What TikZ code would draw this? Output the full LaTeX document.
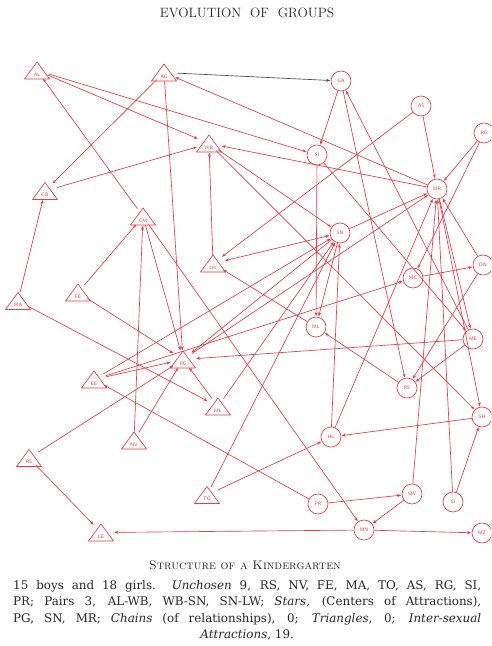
\documentclass[tikz,border=0pt]{standalone}
\usepackage{fontspec}
\newfontfamily\bodyfont{DejaVu Serif}
\usetikzlibrary{arrows.meta,shapes.geometric}
\definecolor{sred}{RGB}{234,58,66}
\definecolor{ink}{RGB}{40,40,40}
\newcommand{\boynode}[4]{%
  \node[boyhit] (#1) at (#2,#3) {};
  \draw[tri] ({#2-12.5},{#3+8.5}) -- ({#2+12.5},{#3+8.5}) -- (#2,{#3-8.5}) -- cycle;
  \node[blbl] (#1-l) at (#2,{#3+4.2}) {#4};}
\begin{document}
\begin{tikzpicture}[x=1pt,y=-1pt,
  link/.style={draw=sred,line width=0.65pt,-{Stealth[length=4pt,width=3pt]},shorten >=0.5pt},
  girl/.style={circle,draw=sred,line width=0.65pt,minimum size=20pt,inner sep=0pt,font=\fontsize{5}{5}\selectfont\sffamily,text=sred},
  boyhit/.style={ellipse,minimum width=25pt,minimum height=17pt,inner sep=0pt},
  tri/.style={draw=sred,line width=0.65pt,line join=round},
  blbl/.style={font=\fontsize{5}{5}\selectfont\sffamily,text=sred,inner sep=0pt}]
\useasboundingbox (0,0) rectangle (491,646);
\clip (0,0) rectangle (491,646);
\fill[white] (0,0) rectangle (491,646);

% title
\node[font=\fontsize{13.5}{15}\selectfont, text=ink] (title) at (247,13) {EVOLUTION\ \ OF\ \ GROUPS};

% boys (triangles)
\boynode{AL}{37}{70.5}{AL}
\boynode{AG}{164}{72.5}{AG}
\boynode{WB}{209}{143.5}{WB}
\boynode{CO}{45}{191}{CO}
\boynode{CM}{143}{216.5}{CM}
\boynode{LW}{213}{263.5}{LW}
\boynode{FE}{78}{292.5}{FE}
\boynode{MA}{18}{301}{MA}
\boynode{PG}{183}{359.5}{PG}
\boynode{EE}{94}{379.5}{EE}
\boynode{MLb}{218}{406.5}{ML}
\boynode{NV}{134}{440.5}{NV}
\boynode{RSb}{29}{458}{RS}
\boynode{TO}{207}{495}{TO}
\boynode{LE}{101}{532.5}{LE}

% girls (circles)
\node[girl] (GA) at (341,81) {GA};
\node[girl] (AS) at (421,106) {AS};
\node[girl] (RG) at (484,133) {RG};
\node[girl] (SI) at (317,155) {SI};
\node[girl] (MR) at (437,189) {MR};
\node[girl] (SN) at (340,233) {SN};
\node[girl] (DN) at (483,265) {DN};
\node[girl] (MC) at (413,278) {MC};
\node[girl] (MLg) at (316,327) {ML};
\node[girl] (ME) at (473,339) {ME};
\node[girl] (RSg) at (407,388) {RS};
\node[girl] (SH) at (482,417) {SH};
\node[girl] (HL) at (331,437) {HL};
\node[girl] (PR) at (318,504) {PR};
\node[girl] (SW) at (412,494) {SW};
\node[girl] (SIb) at (453,502) {SI};
\node[girl] (MN) at (364,530) {MN};
\node[girl] (MZ) at (482,533) {MZ};

% connectors
\draw[link,draw=ink!85] (AG) -- (GA);
\draw[link] (AL) -- (WB);
\draw[link] (AL) -- (SI);
\draw[link] (MR) -- (AG);
\draw[link] (AG) -- (CO);
\draw[link] (CO) -- (WB);
\draw[link] (MA) -- (CO);
\draw[link] (CM) -- (AL);
\draw[link] (AG) -- (PG);
\draw[link] (LW) -- (WB);
\draw[link] (WB) -- (SN);
\draw[link] (MR) -- (WB);
\draw[link] (GA) -- (SI);
\draw[link] (GA) -- (RSg);
\draw[link] (ME) -- (GA);
\draw[link] (AS) -- (LW);
\draw[link] (AS) -- (MR);
\draw[link] (RG) -- (MR);
\draw[link] (RG) -- (MC);
\draw[link] (SI) -- (MLg);
\draw[link] (SI) -- (ME);
\draw[link] (FE) -- (CM);
\draw[link] (FE) -- (PG);
\draw[link] (NV) -- (CM);
\draw[link] (NV) -- (PG);
\draw[link] (CM) -- (PG);
\draw[link] (CM) -- (MN);
\draw[link] (MA) -- (MLb);
\draw[link] (MLb) -- (PG);
\draw[link] (MLb) -- (SN);
\draw[link] (ME) -- (PG);
\draw[link] (SN) -- (PG);
\draw[link] (PG) -- (MR);
\draw[link] (EE) -- (PG);
\draw[link] (EE) -- (MC);
\draw[link] (EE) -- (SN);
\draw[link] (RSb) -- (PG);
\draw[link] (RSb) -- (LE);
\draw[link] (TO) -- (SN);
\draw[link] (TO) -- (HL);
\draw[link] (MN) -- (LE);
\draw[link] (MN) -- (MZ);
\draw[link] (SW) -- (MN);
\draw[link] (PR) -- (SW);
\draw[link] (PR) -- (EE);
\draw[link] (SH) -- (HL);
\draw[link] (SIb) -- (SH);
\draw[link] (SIb) -- (MR);
\draw[link] (SW) -- (MR);
\draw[link] (HL) -- (SN);
\draw[link] (HL) -- (MR);
\draw[link] (SN) -- (MLg);
\draw[link] (RSg) -- (MLg);
\draw[link] (MLg) -- (LW);
\draw[link] (ME) -- (RSg);
\draw[link] (DN) -- (RSg);
\draw[link] (MC) -- (DN);
\draw[link] (MR) -- (SH);
\draw[link] (DN) -- (MR);
\draw[link,{Stealth[length=4pt,width=3pt]}-{Stealth[length=4pt,width=3pt]}] (LW) -- (SN);
\draw[link] (SN) -- (MR);
\draw[link] (WB) -- (SH);
\draw[link] (MR) -- (ME);

% caption
\node[text=ink] (cap) at (245,565) {\fontsize{12.5}{14}\selectfont\textsc{Structure\ of\ a\ Kindergarten}};
\node[anchor=north west, inner sep=0pt, text=ink] (body) at (13,580) {\parbox{468pt}{\bodyfont\fontsize{11.9}{16.5}\selectfont
15 boys and 18 girls.\ \ \textit{Unchosen} 9, RS, NV, FE, MA, TO, AS, RG, SI,\linebreak
PR; Pairs 3, AL-WB, WB-SN, SN-LW; \textit{Stars,} (Centers of Attractions),\linebreak
PG, SN, MR; \textit{Chains} (of relationships), 0; \textit{Triangles}, 0; \textit{Inter-sexual}\linebreak
\hspace*{\fill}\textit{Attractions}, 19.\hspace*{\fill}}};
\end{tikzpicture}
\end{document}
